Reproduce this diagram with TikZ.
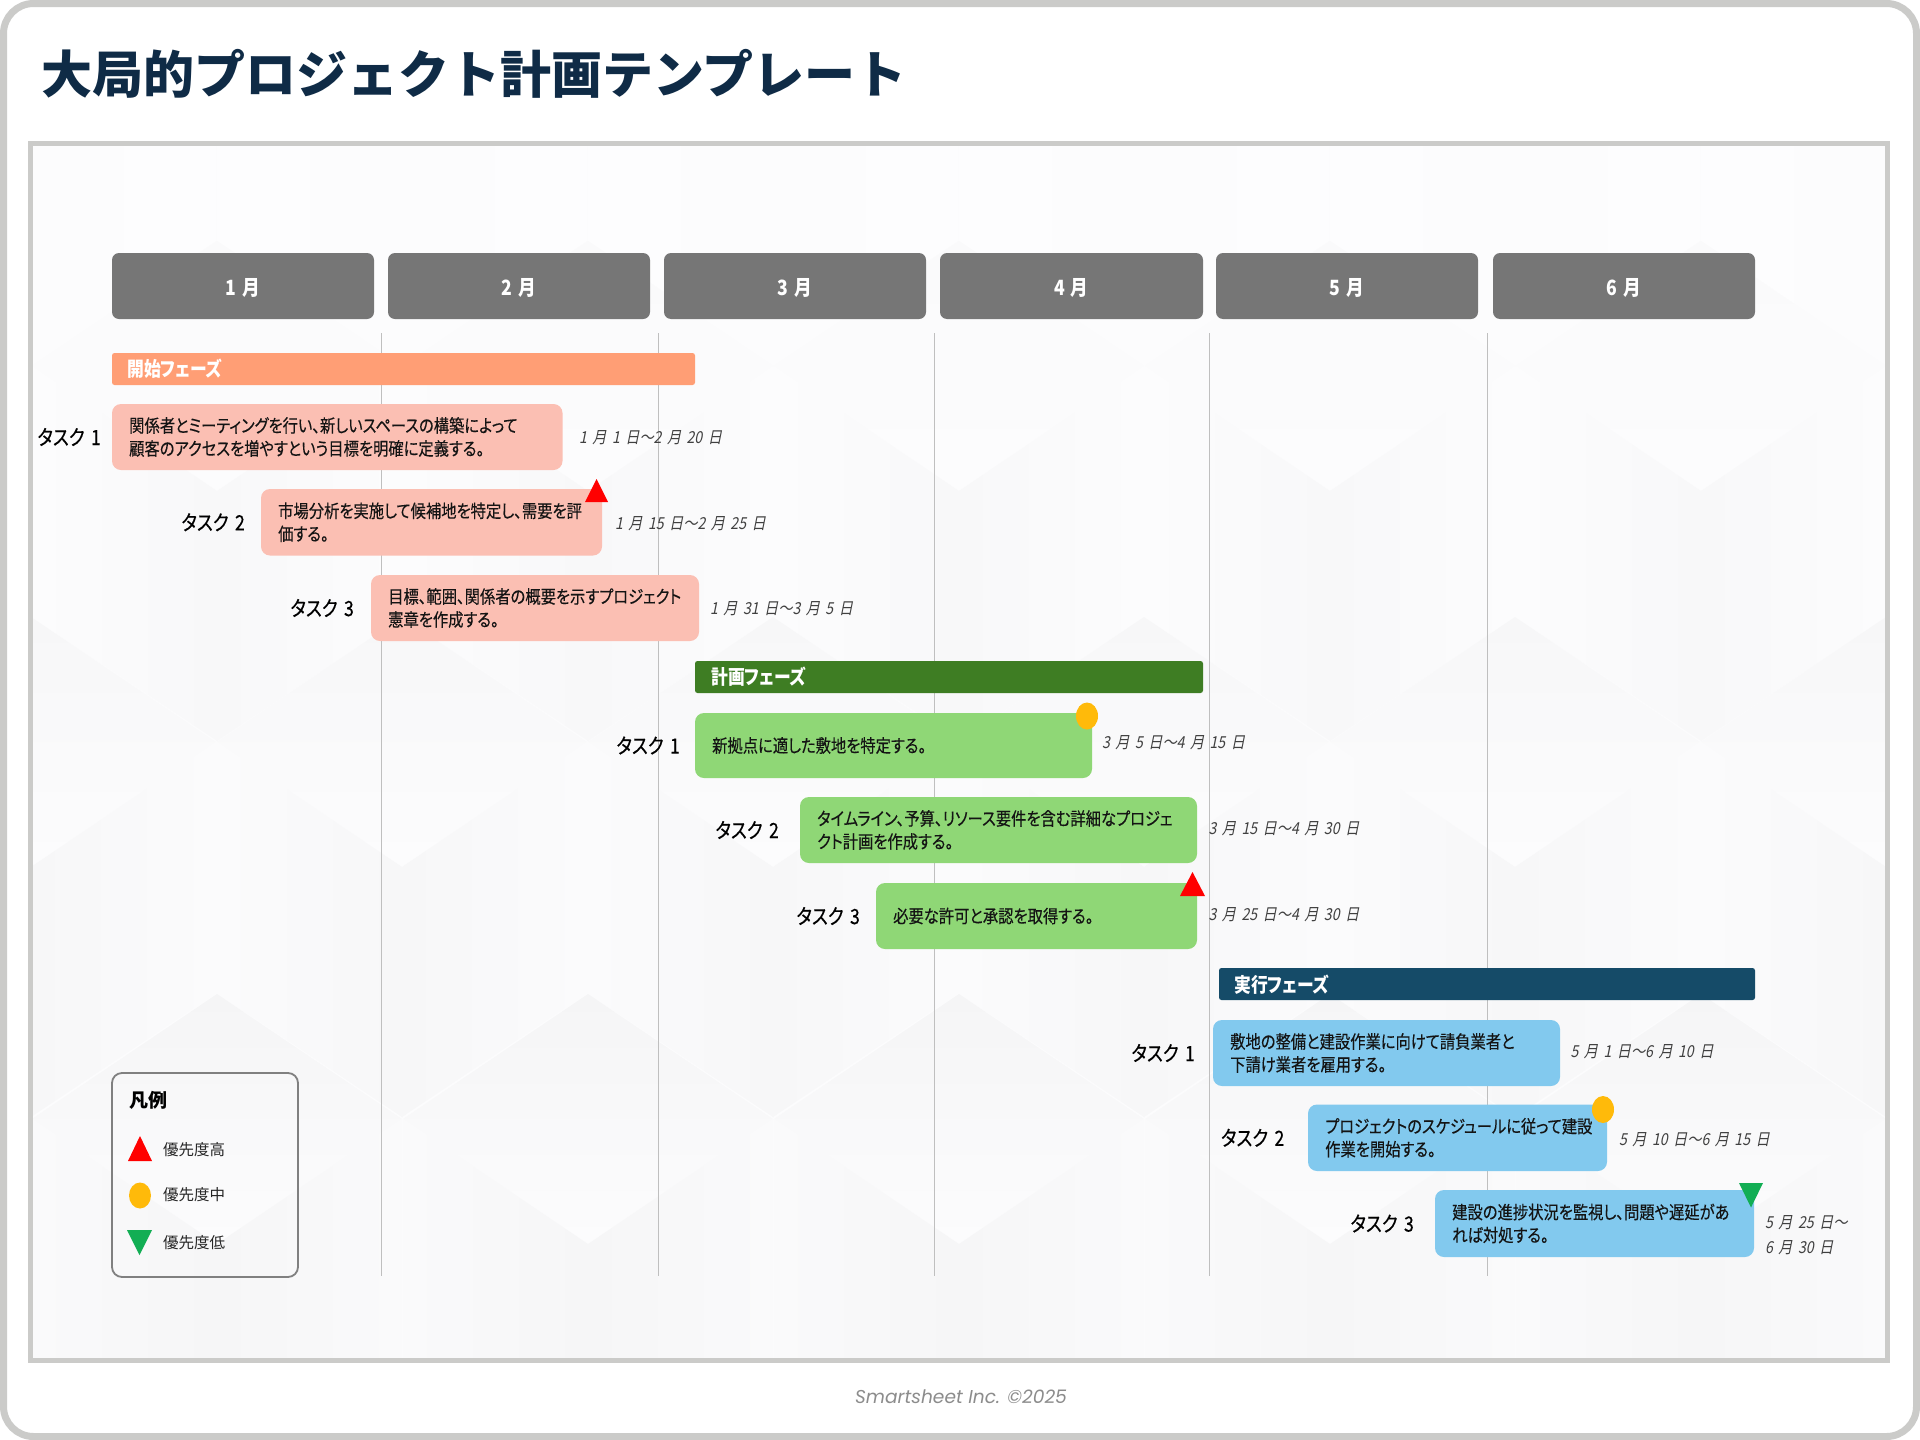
\documentclass[tikz,border=0pt]{standalone}
\usepackage{fontspec}
\usetikzlibrary{shapes.geometric}
\setmainfont{Noto Sans CJK JP}
\newfontfamily\tfont[FakeStretch=0.85,FakeBold=0.25,RawFeature=+palt]{Noto Sans CJK JP}
\newfontfamily\lfont[FakeStretch=0.84,FakeBold=0.35,WordSpace=1.6,RawFeature=+palt]{Noto Sans CJK JP}
\newfontfamily\mfont[FakeStretch=0.84,WordSpace=1.4,RawFeature=+palt]{Noto Sans CJK JP}
\newfontfamily\dfont[FakeStretch=0.86,FakeSlant=0.2,WordSpace=1.7,RawFeature=+palt]{Noto Sans CJK JP}
\newfontfamily\ffont{Poppins}
\definecolor{frame}{HTML}{CBCBC9}
\definecolor{panelbg}{HTML}{FCFCFD}
\definecolor{gFD}{HTML}{FDFDFE}
\definecolor{gFC}{HTML}{FCFCFD}
\definecolor{gFB}{HTML}{FBFBFC}
\definecolor{gFA}{HTML}{FAFAFB}
\definecolor{gF8}{HTML}{F8F8F9}
\definecolor{gF7}{HTML}{F7F7F8}
\definecolor{gF6}{HTML}{F6F6F7}
\definecolor{gF5}{HTML}{F5F5F6}
\definecolor{monthc}{HTML}{767676}
\definecolor{lineg}{HTML}{BFBFBF}
\definecolor{ttl}{HTML}{0F2B46}
\definecolor{pha}{HTML}{FF9E75}
\definecolor{phb}{HTML}{3E7D23}
\definecolor{phc}{HTML}{154B68}
\definecolor{ta}{HTML}{FBBFB3}
\definecolor{tb}{HTML}{8FD776}
\definecolor{tc}{HTML}{82C9EE}
\definecolor{hi}{HTML}{FF0000}
\definecolor{mid}{HTML}{FFBA0A}
\definecolor{lo}{HTML}{12AE54}
\tikzset{
 phase/.style={rounded corners=2.5pt},
 phasetext/.style={anchor=west,text=white,inner sep=0pt,font=\mfont\fontsize{20}{24}\selectfont\bfseries},
 taskbox/.style={rounded corners=9pt},
 tasktext/.style={anchor=west,inner sep=0pt,align=left,text=black!92,font=\tfont\fontsize{18}{23}\selectfont},
 tasklabel/.style={anchor=east,inner sep=0pt,text=black,font=\lfont\fontsize{21}{25}\selectfont},
 datetext/.style={anchor=west,inner sep=0pt,align=left,text=black!75,font=\dfont\fontsize{16.5}{25.5}\selectfont},
 legtext/.style={anchor=west,inner sep=0pt,text=black!85,font=\fontsize{15.5}{18}\selectfont},
 vline/.style={lineg,line width=1pt},
 hiT/.style={fill=hi},
 midC/.style={fill=mid},
 loT/.style={fill=lo},
}
\newcommand{\cube}[5]{% x y  topcolour  facedark facelight
 \shade[top color=#3,bottom color=panelbg] (#1,#2) -- ++(185,125) -- ++(-185,125) -- ++(-185,-125) -- cycle;
 \shade[left color=#5,right color=#4] ({#1-185},{#2+125}) -- (#1,{#2+250}) -- (#1,{#2+500}) -- ({#1-185},{#2+376}) -- cycle;
 \shade[left color=#4,right color=#5] ({#1+185},{#2+125}) -- (#1,{#2+250}) -- (#1,{#2+500}) -- ({#1+185},{#2+376}) -- cycle;
}
\begin{document}
\begin{tikzpicture}[x=1pt,y=-1pt]
\useasboundingbox (0,0) rectangle (1920,1440);
\fill[white] (0,0) rectangle (1920,1440);
\draw[frame,line width=7pt,rounded corners=30pt,fill=white] (3.5,3.5) rectangle (1916.5,1436.5);
% panel
\fill[panelbg] (30,144) rectangle (1888,1360);
\begin{scope}
\clip (30,144) rectangle (1888,1360);
\foreach \px in {31,402,773,1144,1515,1886}{\cube{\px}{-135}{gFD}{gFC}{gFD}}
\foreach \px in {217,588,959,1330,1701}{\cube{\px}{241}{gFA}{gF8}{gFC}}
\foreach \px in {31,402,773,1144,1515,1886}{\cube{\px}{617}{gF7}{gF7}{gFB}}
\foreach \px in {217,588,959,1330,1701}{\cube{\px}{994}{gF5}{gF6}{gFA}}
\end{scope}
\draw[frame,line width=5pt] (30.5,143.5) rectangle (1887.5,1360);
% title
\node[anchor=west,inner sep=0pt,text=ttl,font=\fontsize{51}{60}\selectfont\bfseries] (title) at (41,74) {大局的プロジェクト計画テンプレート};
% lines
\foreach \n/\vx in {a/381,b/658,c/934.5,d/1209.5,e/1487}{
 \coordinate (\n1) at (\vx,333); \coordinate (\n2) at (\vx,1276);
 \draw[vline] (\n1) -- (\n2);
}
% months
\foreach \n/\xa/\xb/\lab in {m1/112/374/1,m2/388/650/2,m3/664/926/3,m4/940/1203/4,m5/1216/1478/5,m6/1493/1755/6}{
 \fill[monthc,rounded corners=7pt] (\xa,253) rectangle (\xb,319);
 \node[text=white,inner sep=0pt,font=\mfont\fontsize{21}{25}\selectfont\bfseries] (\n) at ({(\xa+\xb)/2},287.5) {\lab\ 月};
}
% phases
\fill[pha,phase] (112,353) rectangle (695,385);
\node[phasetext] (pa) at (127,369) {開始フェーズ};
\fill[phb,phase] (695,661) rectangle (1203,693);
\node[phasetext] (pb) at (711,676.5) {計画フェーズ};
\fill[phc,phase] (1219,968) rectangle (1755,1000);
\node[phasetext] (pc) at (1234,984.5) {実行フェーズ};
% tasks
\newcommand{\tsk}[9]{% name colour x1 y1 x2 y2 text labelright number
 \fill[#2,taskbox] (#3,#4) rectangle (#5,#6);
 \node[tasktext] (#1) at ({#3+17},{(#4+#6)/2}) {#7};
 \node[tasklabel] (#1l) at (#8,{(#4+#6)/2}) {タスク #9};
}
\tsk{a1}{ta}{112}{404}{562.5}{470}{関係者とミーティングを行い、新しいスペースの構築によって\\顧客のアクセスを増やすという目標を明確に定義する。}{101}{1}
\tsk{a2}{ta}{261}{489}{602}{555.5}{市場分析を実施して候補地を特定し、需要を評\\価する。}{245}{2}
\tsk{a3}{ta}{371}{575}{699}{641}{目標、範囲、関係者の概要を示すプロジェクト\\憲章を作成する。}{354}{3}
\tsk{b1}{tb}{695}{713}{1092}{778}{新拠点に適した敷地を特定する。}{680}{1}
\tsk{b2}{tb}{800}{797}{1197}{863}{タイムライン、予算、リソース要件を含む詳細なプロジェ\\クト計画を作成する。}{779}{2}
\tsk{b3}{tb}{876}{883}{1197}{949}{必要な許可と承認を取得する。}{860}{3}
\tsk{c1}{tc}{1213}{1020}{1560}{1086}{敷地の整備と建設作業に向けて請負業者と\\下請け業者を雇用する。}{1195}{1}
\tsk{c2}{tc}{1308}{1104.5}{1607}{1171}{プロジェクトのスケジュールに従って建設\\作業を開始する。}{1284.5}{2}
\tsk{c3}{tc}{1435}{1190}{1754}{1257}{建設の進捗状況を監視し、問題や遅延があ\\れば対処する。}{1414}{3}
% dates
\node[datetext] (da1) at (579,438) {1 月 1 日～2 月 20 日};
\node[datetext] (da2) at (615,524) {1 月 15 日～2 月 25 日};
\node[datetext] (da3) at (710,609) {1 月 31 日～3 月 5 日};
\node[datetext] (db1) at (1102,743) {3 月 5 日～4 月 15 日};
\node[datetext] (db2) at (1208.5,829) {3 月 15 日～4 月 30 日};
\node[datetext] (db3) at (1208.5,915) {3 月 25 日～4 月 30 日};
\node[datetext] (dc1) at (1570.5,1052) {5 月 1 日～6 月 10 日};
\node[datetext] (dc2) at (1619,1140) {5 月 10 日～6 月 15 日};
\node[datetext] (dc3) at (1765,1235) {5 月 25 日～\\6 月 30 日};
% markers
\fill[hiT] (585,502) -- (596.5,479) -- (608,502) -- cycle;
\fill[hiT] (1180,896) -- (1192.5,872) -- (1205,896) -- cycle;
\fill[midC] (1087,716) ellipse (11 and 13.5);
\fill[midC] (1603,1109.5) ellipse (11 and 13.5);
\fill[loT] (1739,1183) -- (1763,1183) -- (1751,1207.5) -- cycle;
% legend
\draw[black!50,line width=1.8pt,rounded corners=10pt] (112,1073) rectangle (298,1277);
\node[anchor=west,inner sep=0pt,text=black,font=\fontsize{19}{23}\selectfont\bfseries] (lt) at (129.5,1100) {凡例};
\fill[hiT] (128,1161) -- (140,1136) -- (152,1161) -- cycle;
\fill[midC] (140,1195.5) ellipse (11 and 13);
\fill[loT] (127,1230) -- (152,1230) -- (139.5,1255) -- cycle;
\node[legtext] (l1) at (163,1150) {優先度高};
\node[legtext] (l2) at (163,1195) {優先度中};
\node[legtext] (l3) at (163,1243) {優先度低};
% footer
\node[inner sep=0pt,text=black!45,font=\ffont\itshape\fontsize{18.6}{23}\selectfont] (foot) at (961,1397) {Smartsheet Inc. ©2025};
\end{tikzpicture}
\end{document}
